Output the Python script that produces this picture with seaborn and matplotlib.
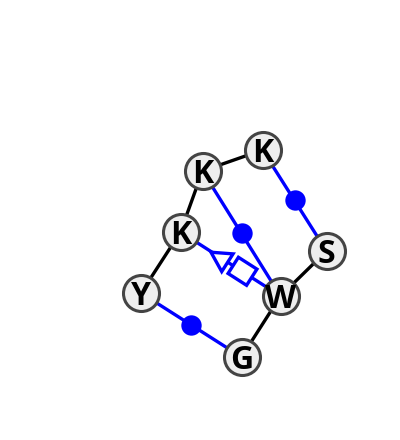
import numpy as np
import pandas as pd
import matplotlib
matplotlib.use("Agg")
import matplotlib.pyplot as plt
import seaborn as sns

# residues, positions read in image pixels
labels = ["K", "K", "K", "Y", "G", "W", "S"]
node_x = [262.5, 202.5, 180.5, 141, 241.5, 280.5, 326.5]
node_y = [150, 171, 232, 293, 357, 296, 251]

black_bonds = [(0, 1), (1, 2), (2, 3), (4, 5), (5, 6)]
blue_bonds = [(0, 6), (1, 5), (3, 4), (2, 5)]

# filled dots on the blue bonds
dot_x = [294.5, 241.5, 191]
dot_y = [200.5, 233.5, 325]

# open symbols on the K-W bond: centre x, centre y, length, width
triangle = (220.0, 258.0, 19.5, 21.0)
square = (242.5, 271.3, 22.0, 19.2)

BLUE = "#0000ff"

sns.set_theme(style="white")
plt.rcParams["font.family"] = ["Open Sans", "DejaVu Sans"]

nodes = pd.DataFrame({"x": node_x, "y": node_y, "label": labels})
dots = pd.DataFrame({"x": dot_x, "y": dot_y})

fig = plt.figure(figsize=(4, 4.4), dpi=100)
ax = fig.add_axes([0, 0, 1, 1])
ax.set_xlim(0, 400)
ax.set_ylim(440, 0)
ax.axis("off")


def draw_bonds(bonds, color):
    for a, b in bonds:
        ax.plot([node_x[a], node_x[b]], [node_y[a], node_y[b]], color=color,
                lw=2.4, solid_capstyle="butt", zorder=1)


def draw_symbol(shape, corners):
    # corners are given along/across the bond, then rotated on to it
    cx, cy, length, width = shape
    dx = node_x[5] - node_x[2]
    dy = node_y[5] - node_y[2]
    u = np.array([dx, dy]) / np.hypot(dx, dy)
    v = np.array([-u[1], u[0]])
    pts = [np.array([cx, cy]) + a * length * u + b * width * v for a, b in corners]
    ax.fill([p[0] for p in pts], [p[1] for p in pts], facecolor="white",
            edgecolor=BLUE, lw=2.4, joinstyle="miter", zorder=2)


draw_bonds(black_bonds, "black")
draw_bonds(blue_bonds, BLUE)

draw_symbol(triangle, [(-0.55, 0), (0.45, -0.5), (0.45, 0.5)])
draw_symbol(square, [(-0.5, -0.5), (0.5, -0.5), (0.5, 0.5), (-0.5, 0.5)])

sns.scatterplot(data=dots, x="x", y="y", s=215, color=BLUE, edgecolor=BLUE,
                linewidth=0, ax=ax, zorder=3, legend=False)
sns.scatterplot(data=nodes, x="x", y="y", s=672, color="#eeeeee", edgecolor="#444444",
                linewidth=2.2, ax=ax, zorder=4, legend=False)

for _, row in nodes.iterrows():
    ax.text(row["x"], row["y"] + 12, row["label"], fontsize=23, fontweight="bold",
            color="black", ha="center", va="baseline", zorder=5)

ax.set_xlabel("")
ax.set_ylabel("")
ax.axis("off")
fig.savefig("out.png", dpi=100)
